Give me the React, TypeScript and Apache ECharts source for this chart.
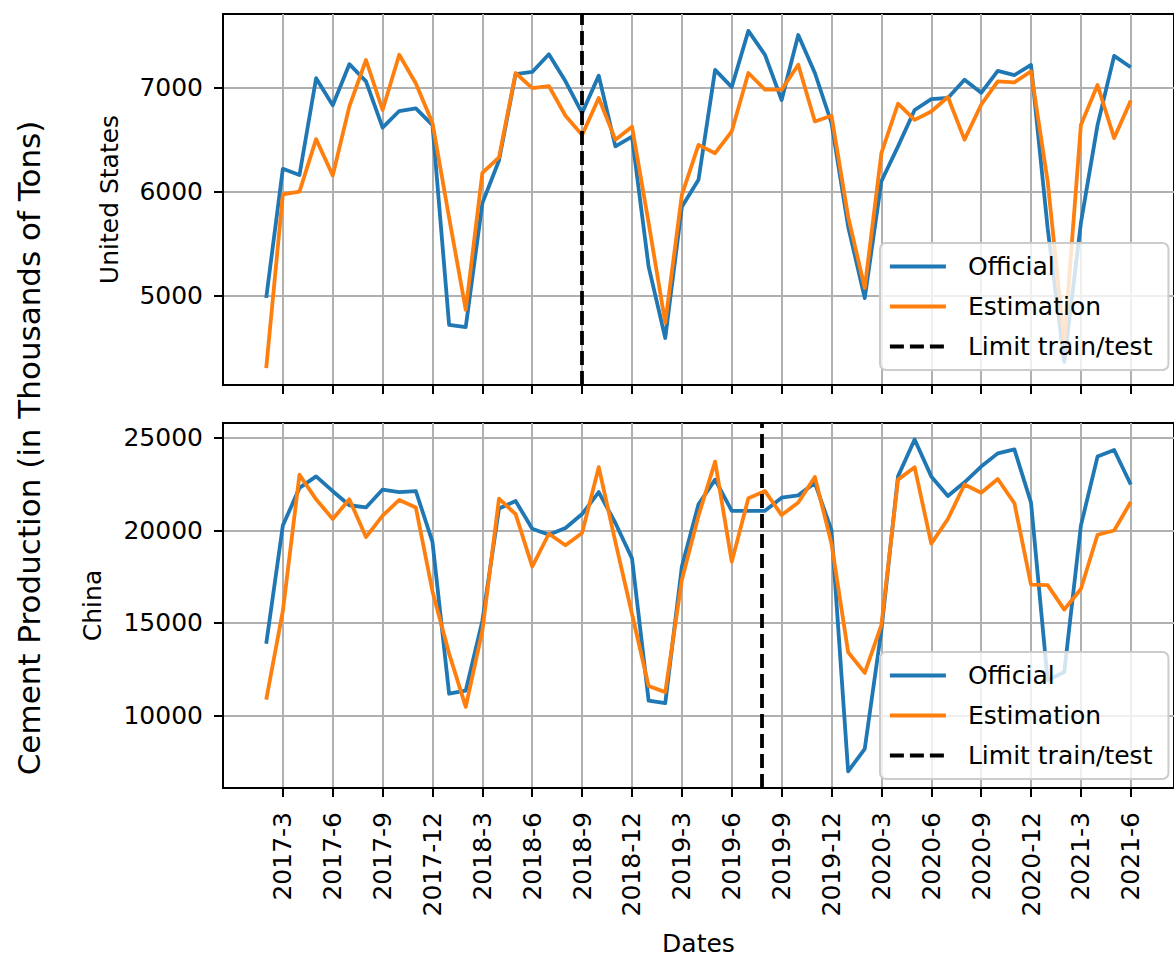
import React, { useEffect, useRef } from 'react';
import * as echarts from 'echarts';

const DATES = [
  '2017-2', '2017-3', '2017-4', '2017-5', '2017-6', '2017-7', '2017-8', '2017-9', '2017-10', '2017-11', '2017-12',
  '2018-1', '2018-2', '2018-3', '2018-4', '2018-5', '2018-6', '2018-7', '2018-8', '2018-9', '2018-10', '2018-11', '2018-12',
  '2019-1', '2019-2', '2019-3', '2019-4', '2019-5', '2019-6', '2019-7', '2019-8', '2019-9', '2019-10', '2019-11', '2019-12',
  '2020-1', '2020-2', '2020-3', '2020-4', '2020-5', '2020-6', '2020-7', '2020-8', '2020-9', '2020-10', '2020-11', '2020-12',
  '2021-1', '2021-2', '2021-3', '2021-4', '2021-5', '2021-6',
];

const US_OFFICIAL = [
  4980, 6220, 6160, 7090, 6830, 7225, 7060, 6615, 6775, 6800, 6640,
  4720, 4700, 5890, 6300, 7130, 7150, 7320, 7060, 6755, 7115, 6435, 6530,
  5280, 4595, 5855, 6115, 7170, 7005, 7545, 7315, 6880, 7505, 7140, 6660,
  5665, 4978, 6100, 6435, 6785, 6890, 6900, 7075, 6950, 7160, 7120, 7218,
  5650, 4365, 5700, 6640, 7305, 7195,
];

const US_ESTIMATION = [
  4305, 5975, 6000, 6505, 6155, 6820, 7265, 6785, 7315, 7040, 6660,
  5750, 4865, 6180, 6330, 7140, 6995, 7015, 6730, 6545, 6900, 6500, 6625,
  5700, 4740, 5970, 6450, 6370, 6580, 7140, 6980, 6980, 7220, 6675, 6730,
  5760, 5075, 6370, 6845, 6690, 6770, 6910, 6500, 6835, 7060, 7050, 7155,
  6100, 4560, 6640, 7025, 6515, 6875,
];

const CN_OFFICIAL = [
  13870, 20260, 22300, 22920, 22120, 21360, 21240, 22210, 22070, 22120, 19375,
  11170, 11340, 15110, 21180, 21590, 20085, 19765, 20130, 20885, 22070, 20400, 18490,
  10795, 10660, 18050, 21415, 22745, 21060, 21060, 21060, 21770, 21895, 22570, 19995,
  6970, 8195, 14600, 22920, 24910, 22920, 21860, 22600, 23455, 24165, 24380, 21500,
  11895, 12340, 20260, 23990, 24345, 22480,
];

const CN_ESTIMATION = [
  10855, 15645, 23010, 21680, 20615, 21680, 19640, 20795, 21645, 21235, 16700,
  13340, 10460, 14580, 21715, 20880, 18045, 19820, 19200, 19865, 23420, 19380, 15480,
  11585, 11255, 17335, 20795, 23720, 18310, 21735, 22125, 20830, 21505, 22890, 19285,
  13415, 12295, 14880, 22745, 23420, 19285, 20615, 22480, 22035, 22780, 21470, 17070,
  17040, 15720, 16830, 19765, 19995, 21540,
];

const X_TICK_LABELS = [
  '2017-3', '2017-6', '2017-9', '2017-12', '2018-3', '2018-6', '2018-9', '2018-12',
  '2019-3', '2019-6', '2019-9', '2019-12', '2020-3', '2020-6', '2020-9', '2020-12',
  '2021-3', '2021-6',
];

const US_Y_TICKS = [5000, 6000, 7000];
const CN_Y_TICKS = [10000, 15000, 20000, 25000];

const US_LIMIT = '2018-9-1';
const CN_LIMIT = '2019-7-26';

const SERIES_NAMES = ['Official', 'Estimation', 'Limit train/test'];
const PANEL_NAMES = ['United States', 'China'];
const TITLE = 'Cement Production (in Thousands of Tons)';
const X_NAME = 'Dates';

const BLUE = '#1f77b4';
const ORANGE = '#ff7f0e';
const FONT = 'DejaVu Sans';

// month index counted from 2016-12 (so quarterly ticks fall on multiples of 3)
function toIdx(s: string): number {
  const [y, m, d] = s.split('-').map(Number);
  return (y - 2016) * 12 + (m - 12) + ((d || 1) - 1) / 30.4;
}

const X_VALUES = DATES.map(toIdx);
const X_TICK_VALUES = X_TICK_LABELS.map(toIdx);

function pairs(vals: number[]) {
  return vals.map((v, i) => [X_VALUES[i], v]);
}

function paddedRange(arrs: number[][]) {
  const all = ([] as number[]).concat(...arrs);
  const lo = Math.min(...all);
  const hi = Math.max(...all);
  const pad = (hi - lo) * 0.05;
  return [lo - pad, hi + pad];
}

export default function App() {
  const ref = useRef<HTMLDivElement>(null);

  useEffect(() => {
    if (!ref.current) return;
    const chart = echarts.init(ref.current, undefined, { renderer: 'svg' });

    const xs = X_VALUES;
    const xSpan = xs[xs.length - 1] - xs[0];
    const xMin = xs[0] - xSpan * 0.05;
    const xMax = xs[xs.length - 1] + xSpan * 0.05;

    const usRange = paddedRange([US_OFFICIAL, US_ESTIMATION]);
    const cnRange = paddedRange([CN_OFFICIAL, CN_ESTIMATION]);

    const gridLine = { show: true, lineStyle: { color: '#b0b0b0', width: 2 } };
    const blackLine = { show: true, onZero: false, lineStyle: { color: '#000', width: 2 } };
    const tick = (vals: number[]) => ({
      show: true,
      length: 9,
      inside: false,
      customValues: vals,
      lineStyle: { color: '#000', width: 2 },
    });

    const makeX = (gi: number) => ({
      type: 'value',
      gridIndex: gi,
      min: xMin,
      max: xMax,
      axisLine: blackLine,
      axisTick: tick(X_TICK_VALUES),
      splitLine: gridLine,
      axisLabel: {
        show: gi === 1,
        customValues: X_TICK_VALUES,
        rotate: 90,
        margin: 24,
        fontSize: 25,
        fontFamily: FONT,
        color: '#000',
        formatter: (v: number) => {
          const k = X_TICK_VALUES.findIndex((t) => Math.abs(t - v) < 1e-6);
          return k >= 0 ? X_TICK_LABELS[k] : '';
        },
      },
      name: gi === 1 ? X_NAME : '',
      nameLocation: 'middle',
      nameGap: 143,
      nameTextStyle: { fontSize: 25, fontFamily: FONT, color: '#000' },
    });

    const makeY = (gi: number, range: number[], ticks: number[], name: string, gap: number) => ({
      type: 'value',
      gridIndex: gi,
      min: range[0],
      max: range[1],
      axisLine: blackLine,
      axisTick: tick(ticks),
      splitLine: gridLine,
      axisLabel: {
        customValues: ticks,
        margin: 20,
        fontSize: 25,
        fontFamily: FONT,
        color: '#000',
        formatter: (v: number) => String(Math.round(v)),
      },
      name,
      nameLocation: 'middle',
      nameGap: gap,
      nameTextStyle: { fontSize: 25, fontFamily: FONT, color: '#000' },
    });

    const dash = [14, 6];
    const lineSeries = (name: string, gi: number, vals: number[], color: string) => ({
      type: 'line',
      name,
      xAxisIndex: gi,
      yAxisIndex: gi,
      data: pairs(vals),
      symbol: 'none',
      showSymbol: false,
      lineStyle: { color, width: 3.8, join: 'round' },
      itemStyle: { color },
      z: 3,
    });
    const limitSeries = (gi: number, limit: string) => ({
      type: 'line',
      name: SERIES_NAMES[2],
      xAxisIndex: gi,
      yAxisIndex: gi,
      data: [],
      symbol: 'none',
      lineStyle: { color: '#000', width: 3.8, type: dash },
      itemStyle: { color: '#000' },
      markLine: {
        silent: true,
        symbol: 'none',
        animation: false,
        label: { show: false },
        lineStyle: { color: '#000', width: 3.8, type: dash },
        data: [{ xAxis: toIdx(limit) }],
      },
      z: 3,
    });

    const legend = (top: number) => ({
      data: SERIES_NAMES,
      orient: 'vertical',
      left: 880,
      top,
      itemWidth: 56,
      itemHeight: 2,
      itemGap: 15,
      padding: [11, 16, 11, 8],
      backgroundColor: 'rgba(255,255,255,0.8)',
      borderColor: '#cccccc',
      borderWidth: 2,
      borderRadius: 6,
      selectedMode: false,
      lineStyle: { width: 3.8 },
      textStyle: {
        fontSize: 25,
        fontFamily: FONT,
        color: '#000',
        lineHeight: 25,
        padding: [0, 0, 0, 17],
      },
    });

    chart.setOption({
      animation: false,
      backgroundColor: '#fff',
      grid: [
        { left: 223, width: 962, top: 14, height: 371, show: true, borderColor: '#000', borderWidth: 2, backgroundColor: 'transparent' },
        { left: 223, width: 962, top: 423, height: 370, show: true, borderColor: '#000', borderWidth: 2, backgroundColor: 'transparent' },
      ],
      xAxis: [makeX(0), makeX(1)],
      yAxis: [
        makeY(0, usRange, US_Y_TICKS, PANEL_NAMES[0], 101),
        makeY(1, cnRange, CN_Y_TICKS, PANEL_NAMES[1], 118),
      ],
      legend: [legend(243), legend(652)],
      series: [
        lineSeries(SERIES_NAMES[0], 0, US_OFFICIAL, BLUE),
        lineSeries(SERIES_NAMES[1], 0, US_ESTIMATION, ORANGE),
        limitSeries(0, US_LIMIT),
        lineSeries(SERIES_NAMES[0], 1, CN_OFFICIAL, BLUE),
        lineSeries(SERIES_NAMES[1], 1, CN_ESTIMATION, ORANGE),
        limitSeries(1, CN_LIMIT),
      ],
      graphic: [
        {
          type: 'text',
          x: 29,
          y: 448,
          rotation: Math.PI / 2,
          style: {
            text: TITLE,
            fontSize: 31,
            fontFamily: FONT,
            fill: '#000',
            align: 'center',
            verticalAlign: 'middle',
          },
        },
      ],
    });

    return () => chart.dispose();
  }, []);

  return (
    <div
      ref={ref}
      style={{ position: 'absolute', left: 0, top: 0, width: 1174, height: 957, overflow: 'hidden' }}
    />
  );
}
